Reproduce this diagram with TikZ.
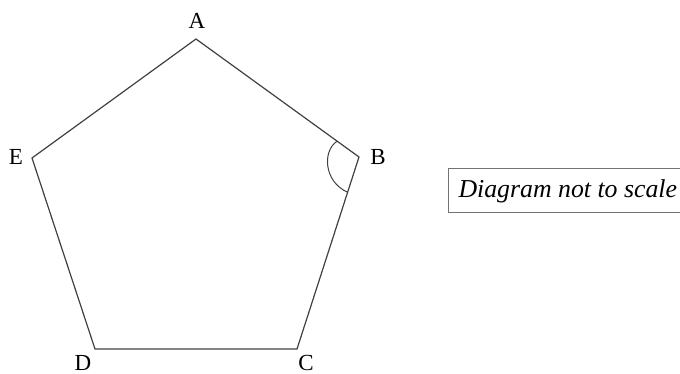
\documentclass[tikz,border=0pt]{standalone}
\usepackage{fontspec}
\setmainfont{Liberation Serif}
\usetikzlibrary{calc}

\begin{document}
\begin{tikzpicture}[
  x=1pt,y=-1pt,
  side/.style={draw=black!75,line width=1.2pt,line join=miter},
  vlabel/.style={inner sep=0pt,font=\fontsize{23}{26}\selectfont},
  note/.style={draw=black!55,line width=1pt,anchor=west,minimum height=44pt,inner xsep=10pt,font=\fontsize{25.8}{30}\selectfont\itshape}
]
\useasboundingbox (0,0) rectangle (680,374);
% vertices of the pentagon
\coordinate (A) at (196,39);
\coordinate (B) at (359,157);
\coordinate (C) at (297,349);
\coordinate (D) at (95,349);
\coordinate (E) at (32,158);
\draw[side] (A) -- (B) -- (C) -- (D) -- (E) -- cycle;
% angle mark at B
\coordinate (b1) at ($(B)!27pt!(A)$);
\coordinate (b2) at ($(B)!37pt!(C)$);
\draw[side,line width=1pt] (b1) .. controls (322,151) and (324,182) .. (b2);
\node[vlabel] (lA) at (197,21) {A};
\node[vlabel] (lB) at (378,157) {B};
\node[vlabel] (lC) at (306,363) {C};
\node[vlabel] (lD) at (83,363) {D};
\node[vlabel] (lE) at (16,157) {E};
\node[note] (scale) at (448,191) {Diagram not to scale};
\end{tikzpicture}
\end{document}
